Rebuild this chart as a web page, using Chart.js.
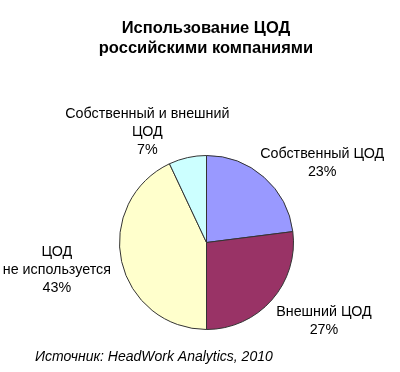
<!DOCTYPE html>
<html><head><meta charset="utf-8">
<script src="https://cdn.jsdelivr.net/npm/chart.js@4"></script>
<style>html,body{margin:0;padding:0;background:#fff;}canvas{display:block;}</style>
</head><body>
<canvas id="c" width="400" height="372"></canvas>
<script>
const categories = [["Собственный ЦОД"], ["Внешний ЦОД"], ["ЦОД", "не используется"], ["Собственный и внешний", "ЦОД"]];
const values = [23, 27, 43, 7];
const colors = ["#9999FF", "#993366", "#FFFFCC", "#CCFFFF"];
const titleLines = ["Использование ЦОД", "российскими компаниями"];
const sourceText = "Источник: HeadWork Analytics, 2010";

// label placement relative to pie center, in units of radius
const labelOffsets = [[1.33, -0.914], [1.35, 0.90], [-1.72, 0.32], [-0.68, -1.27]];

const textPlugin = {
  id: 'texts',
  afterDraw(chart) {
    const ctx = chart.ctx;
    ctx.save();
    ctx.fillStyle = '#000';
    ctx.textAlign = 'center';
    ctx.textBaseline = 'middle';
    ctx.font = 'bold 16.5px "Liberation Sans", Arial, sans-serif';
    ctx.fillText(titleLines[0], 206, 28);
    ctx.fillText(titleLines[1], 206, 48);
    const meta = chart.getDatasetMeta(0);
    const arc = meta.data[0];
    const cx = arc.x, cy = arc.y, r = arc.outerRadius;
    ctx.font = '14.3px "Liberation Sans", Arial, sans-serif';
    const lh = 18;
    meta.data.forEach((a, i) => {
      const lines = categories[i].concat([values[i] + '%']);
      const bx = cx + r * labelOffsets[i][0];
      const by = cy + r * labelOffsets[i][1];
      const y0 = by - (lines.length - 1) * lh / 2;
      lines.forEach((t, k) => ctx.fillText(t, bx, y0 + k * lh));
    });
    ctx.textAlign = 'left';
    ctx.font = 'italic 14px "Liberation Sans", Arial, sans-serif';
    ctx.fillText(sourceText, 35, 357);
    ctx.restore();
  }
};

new Chart(document.getElementById('c'), {
  type: 'pie',
  data: {
    labels: categories.map(c => c.join(' ')),
    datasets: [{
      data: values,
      backgroundColor: colors,
      borderColor: '#333333',
      borderWidth: 1
    }]
  },
  options: {
    responsive: false,
    animation: false,
    layout: { padding: { top: 155, bottom: 42, left: 119, right: 106 } },
    plugins: { legend: { display: false }, tooltip: { enabled: false }, title: { display: false } }
  },
  plugins: [textPlugin]
});
</script>
</body></html>
